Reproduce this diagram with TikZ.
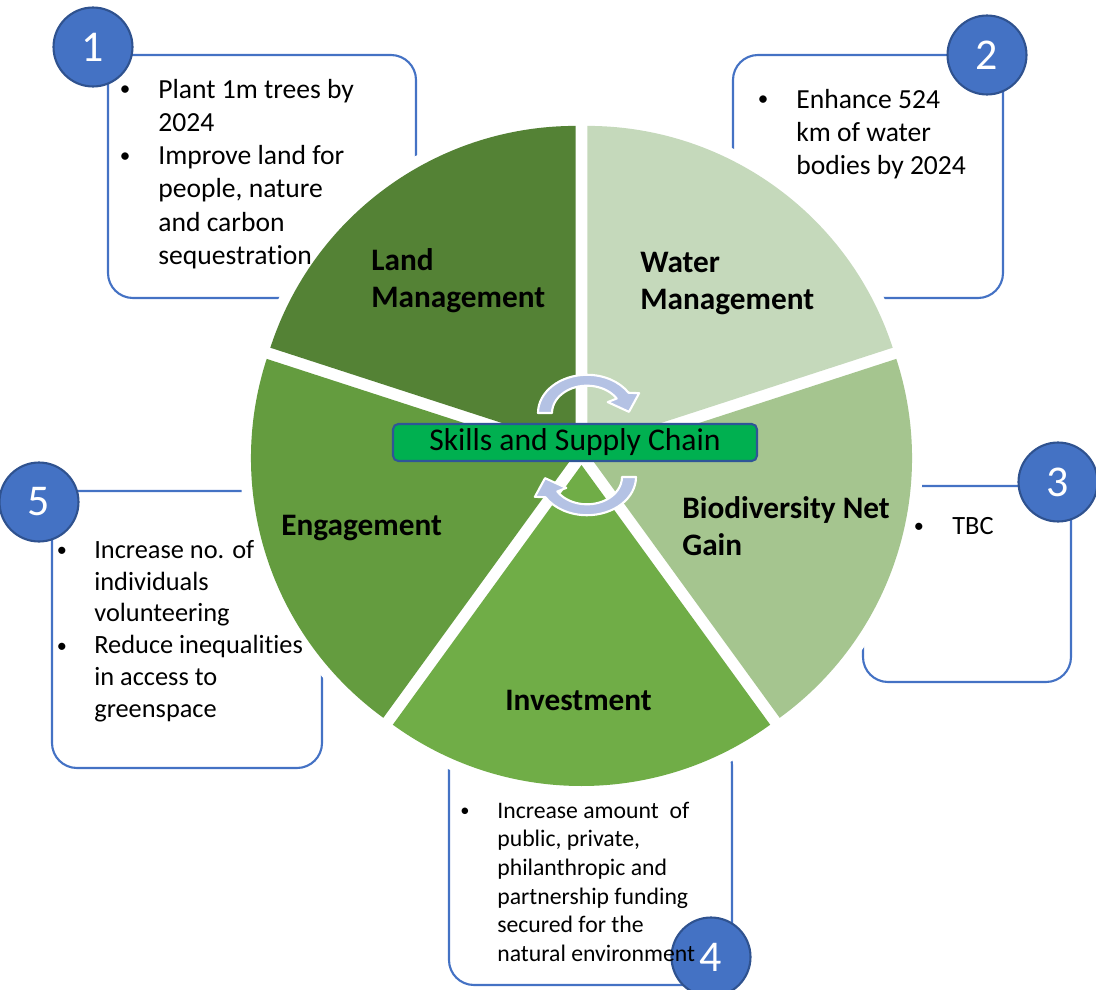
\documentclass[tikz,border=0pt]{standalone}
\usepackage{fontspec}
\setmainfont{Carlito}[Ligatures={NoCommon}]
\definecolor{boxblue}{HTML}{4472C4}
\definecolor{circedge}{HTML}{2F528F}
\definecolor{landc}{HTML}{548235}
\definecolor{waterc}{HTML}{C5D9BB}
\definecolor{bioc}{HTML}{A5C58F}
\definecolor{investc}{HTML}{70AD47}
\definecolor{engagec}{HTML}{649C3F}
\definecolor{skillc}{HTML}{00B050}
\definecolor{skilledge}{HTML}{2F5597}
\definecolor{arrowc}{HTML}{B4C2E4}
\newcommand\pieslice[4]{%
  \path[#4, shift={(581.5,-455)}, shift={(#1:10)}] (0,0) -- (#2:321)
    arc[start angle=#2, end angle=#3, radius=321] -- cycle;}
\begin{document}
\begin{tikzpicture}[x=0.02cm,y=0.02cm,
  callout/.style={draw=boxblue, line width=1.2pt, rounded corners=0.5cm},
  numc/.style={circle, fill=boxblue, draw=circedge, line width=1.2pt, minimum size=1.58cm, inner sep=0pt, text=white, font=\fontsize{25}{30}\selectfont},
  halo/.style={draw=white, line width=12.5pt, line join=round},
  lbl/.style={font=\fontsize{17.8}{21.5}\selectfont\bfseries, inner sep=0pt, align=left},
  txtA/.style={font=\fontsize{15.7}{18.9}\selectfont, inner sep=0pt, align=left, anchor=north west},
  txtB/.style={font=\fontsize{15}{18.1}\selectfont, inner sep=0pt, align=left, anchor=north west},
  txtC/.style={font=\fontsize{13.5}{16.3}\selectfont, inner sep=0pt, align=left, anchor=north west},
  bulA/.style={inner sep=0pt, anchor=base, font=\fontsize{12}{14}\selectfont, yshift=1.2pt},
  bulB/.style={inner sep=0pt, anchor=base, font=\fontsize{11.5}{14}\selectfont, yshift=1.1pt},
  bulC/.style={inner sep=0pt, anchor=base, font=\fontsize{10.5}{13}\selectfont, yshift=1pt},
  cyc/.style={fill=arrowc, draw=white, line width=1.2pt, line join=round},
]
\useasboundingbox (0,0) rectangle (1096,-990);
\clip (0,0) rectangle (1096,-990);
% callout boxes
\draw[callout] (108,-55) rectangle (416,-298);
\draw[callout] (733,-55) rectangle (1003,-298);
\draw[callout] (863,-486) rectangle (1071,-682);
\draw[callout] (449,-740) rectangle (732,-985);
\draw[callout] (52,-491) rectangle (322,-768);
% pie halos
\pieslice{126}{90}{162}{halo}
\pieslice{54}{18}{90}{halo}
\pieslice{-18}{-54}{18}{halo}
\pieslice{-90}{-126}{-54}{halo}
\pieslice{198}{162}{234}{halo}
% pie slices
\pieslice{126}{90}{162}{fill=landc}
\pieslice{54}{18}{90}{fill=waterc}
\pieslice{-18}{-54}{18}{fill=bioc}
\pieslice{-90}{-126}{-54}{fill=investc}
\pieslice{198}{162}{234}{fill=engagec}
% centre box
\node[draw=skilledge, fill=skillc, line width=1.2pt, rounded corners=3pt, minimum width=7.28cm, minimum height=0.74cm, inner sep=0pt, font=\fontsize{18}{21}\selectfont] (skills) at (575,-442.5) {Skills and Supply Chain};
% circular arrows
\begin{scope}[shift={(587,-413)}, yscale=0.78]
\path[cyc] (180:49) arc[start angle=180, end angle=32, radius=49] -- (26:58) -- (2:42) -- (34:25) -- (32:35) arc[start angle=32, end angle=180, radius=35] -- cycle;
\end{scope}
\begin{scope}[shift={(587,-477)}, yscale=0.78]
\path[cyc] (0:49) arc[start angle=0, end angle=-148, radius=49] -- (-154:58) -- (-178:42) -- (-146:25) -- (-148:35) arc[start angle=-148, end angle=0, radius=35] -- cycle;
\end{scope}
% number circles
\node[numc] (n1) at (93,-47) {1};
\node[numc] (n2) at (987,-55) {2};
\node[numc] (n3) at (1058,-482) {3};
\node[numc] (n4) at (711,-957) {};
\node[numc] (n5) at (39,-502) {5};
% slice labels
\node[lbl, anchor=north west] (lland) at (371,-243.4) {\strut Land\\Management};
\node[lbl, anchor=north west] (lwater) at (640,-245.4) {\strut Water\\Management};
\node[lbl, anchor=north west] (lbio) at (682,-491.4) {\strut Biodiversity Net\\Gain};
\node[lbl, anchor=base west] (leng) at (281,-535) {Engagement};
\node[lbl, anchor=base west] (linv) at (505,-710) {Investment};
% box texts
\node[bulA] (b1a) at (125,-98) {\textbullet};
\node[bulA] (b1b) at (125,-164.8) {\textbullet};
\node[txtA] (t1) at (158,-74.6) {\strut Plant 1m trees by\\2024\\Improve land for\\people, nature\\and carbon\\sequestration};
\node[bulA] (b2) at (763,-108) {\textbullet};
\node[txtA] (t2) at (796,-84.6) {\strut Enhance 524\\km of water\\bodies by 2024};
\node[bulB] (b3) at (919,-534) {\textbullet};
\node[txtB] (t3) at (952,-511.6) {\strut TBC};
\node[bulB] (b5a) at (62,-558) {\textbullet};
\node[bulB] (b5b) at (62,-654) {\textbullet};
\node[txtB] (t5) at (94,-535.6) {\strut Increase no. of\\individuals\\volunteering\\Reduce inequalities\\in access to\\greenspace};
\node[bulC] (b4) at (465,-818) {\textbullet};
\node[txtC] (t4) at (497,-797.8) {\strut Increase amount~ of\\public, private,\\philanthropic and\\partnership funding\\secured for the\\natural environment};
\node[text=white, font=\fontsize{25}{30}\selectfont, inner sep=0pt] (n4t) at (n4) {4};
\end{tikzpicture}
\end{document}
